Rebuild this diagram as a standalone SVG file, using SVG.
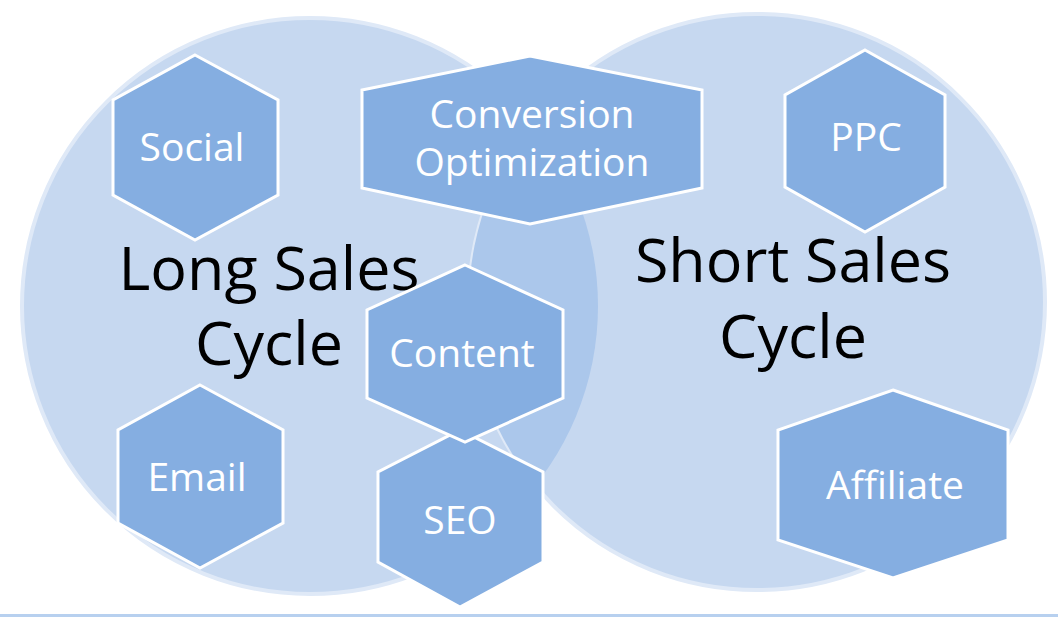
<svg xmlns="http://www.w3.org/2000/svg" width="1058" height="619" viewBox="0 0 1058 619">
<style>
.c{fill:#c6d8f0;stroke:#dfe9f7;stroke-width:4}
.h{fill:#85aee1;stroke:#fff;stroke-width:3}
.t{font-family:"Open Sans","Liberation Sans",sans-serif;fill:#fff;font-size:39px;text-anchor:middle}
.b{font-family:"Open Sans","Liberation Sans",sans-serif;fill:#000;font-size:61px;text-anchor:middle}
</style>
<rect width="1058" height="619" fill="#fff"/>
<g id="circles">
<circle class="c" cx="310" cy="306" r="288"/>
<circle class="c" cx="757" cy="302" r="288"/>
<clipPath id="cl"><circle cx="310" cy="306" r="288"/></clipPath>
<circle cx="757" cy="302" r="288" fill="#abc7eb" clip-path="url(#cl)"/>
</g>
<text class="b" x="269" y="290">Long Sales</text>
<text class="b" x="269" y="365">Cycle</text>
<text class="b" x="793" y="282">Short Sales</text>
<text class="b" x="793" y="358">Cycle</text>
<g id="connectors"/>
<g id="social"><polygon class="h" points="195,55 278,100 278,195 195,240 113,195 113,100"/><text class="t" x="192" y="161">Social</text></g>
<g id="conversion"><polygon class="h" points="530,56 702,90 702,188 530,224 362,188 362,90"/><text class="t" x="532" y="128">Conversion</text><text class="t" x="532" y="176">Optimization</text></g>
<g id="ppc"><polygon class="h" points="865,50 945,95 945,187 865,232 785,187 785,95"/><text class="t" x="866" y="151">PPC</text></g>
<g id="email"><polygon class="h" points="200,385 283,430 283,523 200,568 118,523 118,430"/><text class="t" x="197" y="491">Email</text></g>
<g id="seo"><polygon class="h" points="460,430 543,472 543,562 460,607 378,562 378,472"/><text class="t" x="460" y="534">SEO</text></g>
<g id="content"><polygon class="h" points="465,265 563,310 563,398 465,442 367,398 367,310"/><text class="t" x="462" y="367">Content</text></g>
<g id="affiliate"><polygon class="h" points="893,390 1008,430 1008,540 893,578 778,540 778,430"/><text class="t" x="895" y="499">Affiliate</text></g>
<rect x="0" y="614" width="1058" height="3" fill="#b7d0ef"/>
</svg>
